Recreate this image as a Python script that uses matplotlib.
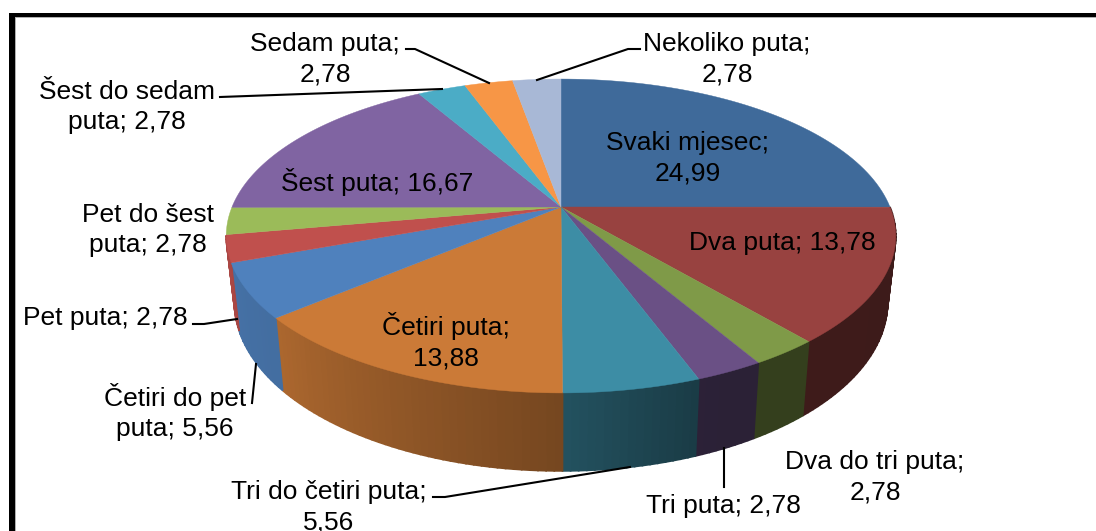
#%% Bibliotecas
import numpy as np
import matplotlib.pyplot as plt
from matplotlib.colors import to_rgb
from matplotlib.patches import Polygon, Rectangle

plt.rcParams["font.family"] = ["Liberation Sans", "DejaVu Sans"]
#%% Dados
categorias = ["Svaki mjesec", "Dva puta", "Dva do tri puta", "Tri puta", "Tri do četiri puta",
              "Četiri puta", "Četiri do pet puta", "Pet puta", "Pet do šest puta", "Šest puta",
              "Šest do sedam puta", "Sedam puta", "Nekoliko puta"]
valores = [24.99, 13.78, 2.78, 2.78, 5.56, 13.88, 5.56, 2.78, 2.78, 16.67, 2.78, 2.78, 2.78]
cores = ["#3F6A9A", "#984240", "#7F9A48", "#6A5085", "#3D8DA5", "#CB7A37", "#4F81BD",
         "#C0504D", "#9BBB59", "#8064A2", "#4BACC6", "#F79646", "#A8B8D6"]
rotulos = ["Svaki mjesec;\n24,99", "Dva puta; 13,78", "Dva do tri puta;\n2,78", "Tri puta; 2,78",
           "Tri do četiri puta;\n5,56", "Četiri puta;\n13,88", "Četiri do pet\nputa; 5,56",
           "Pet puta; 2,78", "Pet do šest\nputa; 2,78", "Šest puta; 16,67",
           "Šest do sedam\nputa; 2,78", "Sedam puta;\n2,78", "Nekoliko puta;\n2,78"]
pos_rotulos = [(688, 158), (782, 243), (875, 477), (723, 506), (329, 507), (446, 341), (175, 412),
               (105, 318), (148, 230), (377, 182), (127, 107), (325, 59), (727, 59)]
guias = [[(406, 49), (415, 49), (489, 83)],
         [(640, 49), (628, 49), (537, 80)],
         [(220, 97), (442, 89)],
         [(193, 324), (204, 324), (237, 319)],
         [(252, 403), (256, 364)],
         [(433, 497), (445, 497), (630, 467)],
         [(724, 448), (724, 487)]]

#%% Projeção do disco (topo e base)
def topo(f):
    t = 2 * np.pi * np.asarray(f)
    d = 1 + 0.1847 * np.cos(t)
    return 561 + 329 * np.sin(t) / d, 207 - 151.6 * np.cos(t) / d

def base(f):
    t = 2 * np.pi * np.asarray(f)
    d = 1 + 0.1847 * np.cos(t)
    return 561 + 321 * np.sin(t) / d, 271 - 163 * np.cos(t) / d

def escurece(cor, f):
    fator = np.interp(f, [.25, .44, .5, .64, .75], [.4, .41, .58, .85, .9])
    return np.array(to_rgb(cor)) * fator

#%% Gráfico
fig = plt.figure(figsize=(10.96, 5.31), dpi=100)
ax = fig.add_axes([0, 0, 1, 1])
ax.set_xlim(0, 1096)
ax.set_ylim(531, 0)
ax.axis("off")

# moldura (só esquerda e topo aparecem no recorte)
ax.add_patch(Rectangle((9, 13), 1087, 3.5, fc="black", ec="none"))
ax.add_patch(Rectangle((9, 13), 5.5, 518, fc="black", ec="none"))
ax.add_patch(Rectangle((14.5, 16.5), 1081.5, 1, fc="#B0B0B0", ec="none"))
ax.add_patch(Rectangle((14.5, 16.5), 1, 514.5, fc="#B0B0B0", ec="none"))

limites = np.concatenate([[0], np.cumsum(valores)]) / np.sum(valores)

# parede lateral
for i, cor in enumerate(cores):
    ini, fim = max(limites[i], .25), min(limites[i + 1], .7211)
    if fim <= ini:
        continue
    passos = np.linspace(ini, fim, int((fim - ini) * 300) + 2)
    for a, b in zip(passos[:-1], passos[1:]):
        xa, ya = topo(a)
        xb, yb = topo(b)
        xc, yc = base(b)
        xd, yd = base(a)
        c = escurece(cor, (a + b) / 2)
        ax.add_patch(Polygon([(xa, ya), (xb, yb), (xc, yc), (xd, yd)], fc=c, ec=c, lw=1.2))

# topo
for i, cor in enumerate(cores):
    f = np.linspace(limites[i], limites[i + 1], 60)
    x, y = topo(f)
    ax.add_patch(Polygon(np.column_stack([np.r_[561, x], np.r_[207, y]]), fc=cor, ec=cor, lw=0.3))

# guias e rótulos
for g in guias:
    ax.plot([p[0] for p in g], [p[1] for p in g], color="black", lw=1.5)
for r, p in zip(rotulos, pos_rotulos):
    ax.text(p[0], p[1], r, ha="center", va="center", fontsize=19, color="black", linespacing=1.32)
# %%
plt.savefig("out.png", dpi=100)
